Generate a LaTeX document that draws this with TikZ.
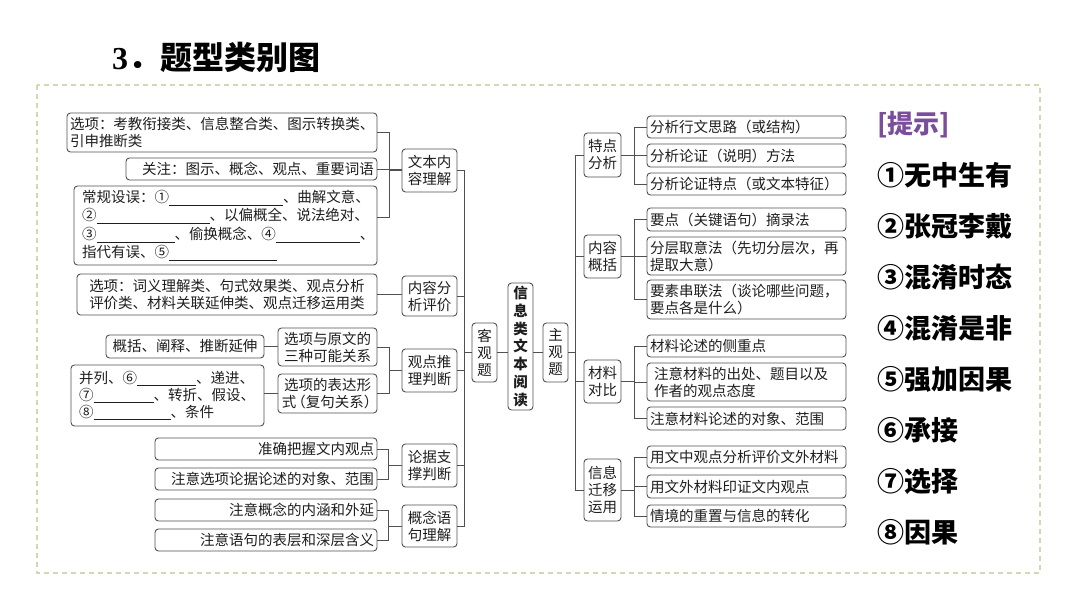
\documentclass[tikz,border=0pt]{standalone}
\usepackage{fontspec}
\setmainfont{Noto Sans CJK SC}
\newfontfamily\tnr{Liberation Serif}
\usetikzlibrary{calc}
\definecolor{linec}{HTML}{505050}
\definecolor{framec}{HTML}{D8D6B0}
\definecolor{hintc}{HTML}{7B4E9C}
\definecolor{txtc}{HTML}{1E1E1E}
\tikzset{
  box/.style={draw=linec, line width=0.9pt, rounded corners=3.5pt, inner xsep=3pt, inner ysep=0pt,
    text=txtc, font=\fontsize{14.5}{17}\selectfont},
  boldbox/.style={box, font=\bfseries\fontsize{14.5}{17.8}\selectfont},
  conn/.style={draw=linec, line width=0.9pt},
  hintitem/.style={anchor=west, inner sep=0pt, text=black, font=\bfseries\fontsize{27}{27}\selectfont},
}
\newcommand\blank[1]{\rule[-3pt]{#1pt}{0.7pt}}
\newcommand\bx[8][]{%
  \pgfmathsetmacro\bxw{#5-#3}%
  \pgfmathsetmacro\bxh{#6-#4}%
  \pgfmathsetmacro\bxt{#5-#3-6}%
  \node[box, minimum width=\bxw pt, minimum height=\bxh pt, text width=\bxt pt, align=#7, #1] (#2) at ({(#3+#5)/2},{(#4+#6)/2}) {#8};}
\begin{document}
\begin{tikzpicture}[x=1pt,y=-1pt]
\useasboundingbox (0,0) rectangle (1080,607);
% frame
\draw[framec, line width=1.2pt, dash pattern=on 5pt off 4pt] (37,85) rectangle (1040,573);
% title
\node[anchor=west, inner sep=0pt, font=\bfseries\fontsize{32}{32}\selectfont] (title) at (112,57) {{\tnr 3}．题型类别图};
% left leaves
\bx{L1}{67}{113}{377}{152}{left}{选项：考教衔接类、信息整合类、图示转换类、\\引申推断类}
\bx{L2}{126}{158}{377}{180}{right}{关注：图示、概念、观点、重要词语}
\bx[inner xsep=8pt, text width=287pt, font=\fontsize{14.5}{18.4}\selectfont]{L3}{74}{186}{377}{265}{left}{常规设误：①\blank{114}、曲解文意、\\②\blank{113}、以偏概全、说法绝对、\\③\blank{78}、偷换概念、④\blank{84}、\\指代有误、⑤\blank{108}}
\bx{N1}{402}{149}{457}{192}{center}{文本内\\容理解}
\bx{L4}{77}{274}{377}{315}{center}{选项：词义理解类、句式效果类、观点分析\\评价类、材料关联延伸类、观点迁移运用类}
\bx{N2}{402}{276}{457}{316}{center}{内容分\\析评价}
\bx{L5}{106}{335}{264}{358}{center}{概括、阐释、推断延伸}
\bx{L6}{278}{328}{377}{366}{center}{选项与原文的\\三种可能关系}
\bx[inner xsep=8pt, text width=177pt]{L7}{71}{365}{264}{426}{left}{并列、⑥\blank{59}、递进、\\⑦\blank{60}、转折、假设、\\⑧\blank{77}、条件}
\bx{L8}{278}{374}{377}{413}{center}{选项的表达形\\式\kern-5pt（复句关系）\kern-5pt}
\bx{N3}{402}{349}{457}{392}{center}{观点推\\理判断}
\bx{L9}{155}{438}{377}{460}{right}{准确把握文内观点}
\bx{L10}{155}{468}{377}{490}{right}{注意选项论据论述的对象、范围}
\bx{N4}{402}{444}{457}{487}{center}{论据支\\撑判断}
\bx{L11}{155}{499}{377}{521}{right}{注意概念的内涵和外延}
\bx{L12}{155}{529}{377}{551}{right}{注意语句的表层和深层含义}
\bx{N5}{402}{505}{457}{547}{center}{概念语\\句理解}
% center
\bx{K}{472}{323}{497}{382}{center}{客\\观\\题}
\bx[boldbox]{X}{508}{283}{533}{410}{center}{信\\息\\类\\文\\本\\阅\\读}
\bx{Z}{543}{323}{568}{382}{center}{主\\观\\题}
% right categories
\bx{R1}{584}{133}{621}{177}{center}{特点\\分析}
\bx{R2}{584}{235}{621}{278}{center}{内容\\概括}
\bx{R3}{584}{360}{621}{403}{center}{材料\\对比}
\bx{R4}{584}{459}{621}{521}{center}{信息\\迁移\\运用}
% right leaves
\bx{A1}{647}{116}{846}{138}{left}{分析行文思路（或结构）}
\bx{A2}{647}{144}{846}{167}{left}{分析论证（说明）方法}
\bx{A3}{647}{173}{846}{195}{left}{分析论证特点（或文本特征）}
\bx{B1}{647}{208}{846}{231}{left}{要点（关键语句）摘录法}
\bx{B2}{647}{237}{846}{275}{left}{分层取意法（先切分层次，再\\提取大意）}
\bx{B3}{647}{280}{846}{319}{left}{要素串联法（谈论哪些问题，\\要点各是什么）}
\bx{C1}{647}{335}{846}{357}{left}{材料论述的侧重点}
\bx{C2}{647}{363}{846}{401}{left}{\hspace*{4pt}注意材料的出处、题目以及\\\hspace*{4pt}作者的观点态度}
\bx{C3}{647}{407}{846}{430}{left}{注意材料论述的对象、范围}
\bx{D1}{647}{446}{846}{468}{left}{用文中观点分析评价文外材料}
\bx{D2}{647}{475}{846}{498}{left}{用文外材料印证文内观点}
\bx{D3}{647}{505}{846}{527}{left}{情境的重置与信息的转化}
% connectors left
\draw[conn] (L1.east) -- ++(12,0) |- (N1.west);
\draw[conn] (L2.east) -- (L2.east -| N1.west);
\draw[conn] ([yshift=8pt]L3.east) -- ++(12,0) |- (N1.west);
\draw[conn] (L4.east) -- (L4.east -| N2.west);
\draw[conn] (L5.east) -- (L5.east -| L6.west);
\draw[conn] (L8.west -| L7.east) -- (L8.west);
\draw[conn] (L6.east) -- ++(12,0) |- (N3.west);
\draw[conn] (L8.east) -- ++(12,0) |- (N3.west);
\draw[conn] (L9.east) -- ++(11,0) |- (N4.west);
\draw[conn] (L10.east) -- ++(11,0) |- (N4.west);
\draw[conn] (L11.east) -- ++(11,0) |- (N5.west);
\draw[conn] (L12.east) -- ++(11,0) |- (N5.west);
\foreach \n in {N1,N2,N3,N4,N5}{\draw[conn] (\n.east) -- ++(7,0) |- (K.west);}
\draw[conn] (K.east) -- (K.east -| X.west);
\draw[conn] (X.east |- Z.west) -- (Z.west);
\foreach \n in {R1,R2,R3,R4}{\draw[conn] (Z.east) -- ++(7,0) |- (\n.west);}
\foreach \a/\b in {R1/A1,R1/A2,R1/A3,R2/B1,R2/B2,R2/B3,R3/C1,R3/C2,R3/C3,R4/D1,R4/D2,R4/D3}{\draw[conn] (\a.east) -- ++(13,0) |- (\b.west);}
% hints
\node[anchor=west, inner sep=0pt, text=hintc, font=\bfseries\fontsize{26}{26}\selectfont] (hint) at (877,125) {[提示]};
\node[hintitem] (h1) at (877,175) {①无中生有};
\node[hintitem] (h2) at (877,226) {②张冠李戴};
\node[hintitem] (h3) at (877,277) {③混淆时态};
\node[hintitem] (h4) at (877,328) {④混淆是非};
\node[hintitem] (h5) at (877,379) {⑤强加因果};
\node[hintitem] (h6) at (877,430) {⑥承接};
\node[hintitem] (h7) at (877,481) {⑦选择};
\node[hintitem] (h8) at (877,532) {⑧因果};
\end{tikzpicture}
\end{document}
